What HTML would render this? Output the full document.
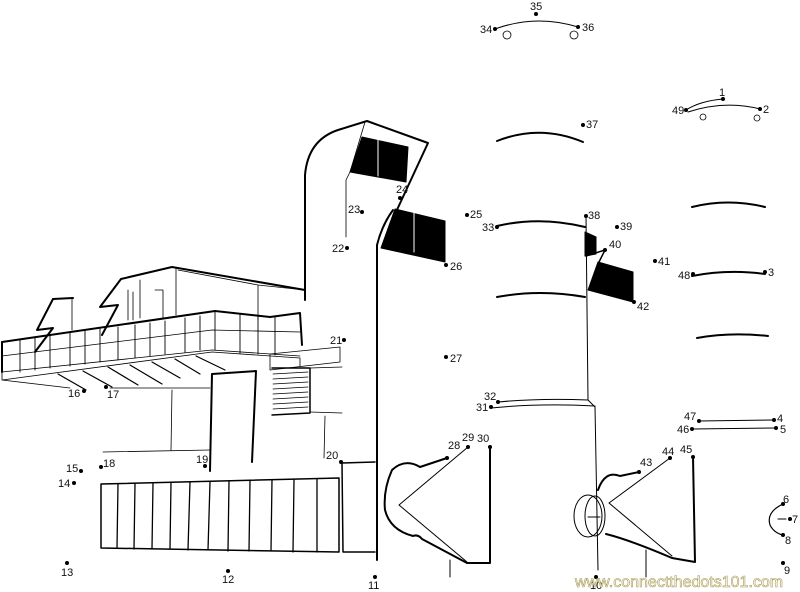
<!DOCTYPE html>
<html><head><meta charset="utf-8"><style>
html,body{margin:0;padding:0;background:#fff;width:800px;height:592px;overflow:hidden}
svg{display:block}
text{font-family:"Liberation Sans",sans-serif;font-size:11px;fill:#111}
</style></head><body>
<svg width="800" height="592" viewBox="0 0 800 592" xmlns="http://www.w3.org/2000/svg">
<g fill="none" stroke="#000" stroke-linecap="round" stroke-linejoin="round">
<!-- left building upper -->
<path d="M53,299 L73,298 M53,299 L37,330 L53,328 L35,352" stroke-width="2"/>
<path d="M121,279 L172,267 L305,290 M121,279 L100,307 L118,305 L102,335" stroke-width="2"/>
<path d="M176,268 L176,315 M178,270 L258,285 L305,290 M258,285 L258,320 M140,280 L140,318 M155,290 L163,290 L163,318 M128,290 L128,320 M133,292 L133,320 M72,298 L72,330" stroke-width="0.8"/>
<path d="M2,342 L215,311 L270,317 L300,313 L302,345 M2,342 L2,372" stroke-width="2"/>
<path d="M2,356 L212,330 L300,332 M2,372 L212,350 L300,356" stroke-width="0.8"/>
<path d="M20,340 L20,372 M35,338 L35,370 M50,336 L50,368 M70,333 L70,366 M85,331 L85,364 M100,329 L100,362 M118,327 L118,360 M135,325 L135,358 M150,323 L150,356 M165,321 L165,354 M185,318 L185,352 M200,316 L200,350 M215,312 L215,350 M240,314 L240,353 M258,316 L258,354 M275,316 L275,355" stroke-width="0.9"/>
<path d="M2,372 L2,380 L212,352 L300,358 L300,366 M2,380 L70,388 M110,388 L210,388" stroke-width="0.8"/>
<path d="M58,374 L86,390 M83,371 L112,387 M108,367 L138,385 M130,365 L162,384 M152,362 L180,378 M175,359 L200,374 M196,356 L225,370" stroke-width="1.2"/>
<path d="M172,390 L171,450 M103,452 L210,450" stroke-width="0.8"/>
<path d="M210,471 L212,374 L256,371 L252,462" stroke-width="2"/>
<path d="M270,354 L340,347 L340,362 L270,370 Z" stroke-width="0.8"/>
<path d="M272,368 L310,368 L310,413 L272,415" stroke-width="1.5"/>
<path d="M273,374 L308,372 M273,379 L308,377 M273,384 L308,382 M273,389 L308,387 M273,394 L308,392 M273,399 L308,397 M273,404 L308,402 M273,409 L308,407" stroke-width="0.8"/>
<path d="M310,368 L342,367 M310,412 L342,413 M325,416 L324,458" stroke-width="0.8"/>
<!-- garage -->
<path d="M101,484 L339,478 L339,552 L101,548 Z" stroke-width="1.5"/>
<path d="M118,484 L117,548 M135,484 L134,549 M153,483 L152,549 M171,483 L170,549 M190,482 L188,550 M210,482 L208,550 M229,481 L228,551 M250,481 L249,551 M272,480 L271,551 M294,480 L293,552 M317,479 L317,552" stroke-width="1.3"/>
<path d="M342,463 L343,552 L375,552 M342,463 L375,462" stroke-width="1.5"/>
<!-- tower -->
<path d="M305,300 L305,175 Q308,140 338,130 L367,121 L428,143 L396,212 M377,560 L377,245 Q382,225 393,210" stroke-width="2"/>
<path d="M365,122 L350,172 L346,180 L346,237" stroke-width="0.8"/>
<path d="M362,137 L408,147 L406,182 L350,172 Z" fill="#000"/>
<path d="M395,209 L445,221 L445,262 L381,248 Z" fill="#000"/>
<path d="M378,138 L378,176 M414,213 L414,252" stroke="#fff" stroke-width="1"/>
<!-- right tower -->
<path d="M586,216 L588,400 L595,407 L598,570" stroke-width="1"/>
<path d="M585,232 L596,237 L596,254 L585,256 Z" fill="#000"/>
<path d="M598,262 L633,272 L633,302 L588,290 Z" fill="#000"/>
<path d="M586,256 L605,250 L599,262" stroke-width="1.5"/>
<path d="M497,141 Q540,124 583,142 M497,226 Q540,216 585,227 M497,297 Q540,289 585,297" stroke-width="2"/>
<path d="M498,402 Q540,398 588,400 M491,408 Q540,403 595,406" stroke-width="1"/>
<path d="M692,207 Q728,198 765,207 M692,276 Q728,269 765,274 M697,338 Q730,332 768,336" stroke-width="2"/>
<path d="M699,421 L774,420 M692,429 L776,428" stroke-width="1"/>
<path d="M495,29 Q536,14 578,27" stroke-width="1"/>
<circle cx="507" cy="35" r="4" stroke-width="0.8"/><circle cx="574" cy="35" r="4" stroke-width="0.8"/>
<path d="M686,110 Q700,101 723,99 M688,112 Q725,100 760,109" stroke-width="1"/>
<circle cx="703" cy="117" r="3" stroke-width="0.8"/><circle cx="757" cy="118" r="3" stroke-width="0.8"/>
<!-- speakers -->
<path d="M447,458 L420,467 Q405,458 392,470 Q383,490 385,510 Q390,530 413,536 Q418,534 422,539 L467,563 L490,563 L490,447" stroke-width="2"/>
<path d="M468,447 L399,505 L467,562" stroke-width="1"/>
<path d="M450,560 L450,577" stroke-width="1"/>
<path d="M639,472 L620,476 Q605,470 598,490 M606,534 Q630,540 672,558 L695,562 L693,457" stroke-width="2"/>
<path d="M670,458 L609,503 L672,556" stroke-width="1"/>
<ellipse cx="588" cy="516" rx="14" ry="21" stroke-width="1"/><ellipse cx="595" cy="516" rx="10" ry="20" stroke-width="1"/>
<path d="M588,517 L600,517 M646,550 L646,577" stroke-width="1"/>
<path d="M783,504 Q766,512 770,525 Q774,533 783,535" stroke-width="1.2"/>
<path d="M778,519 L786,519" stroke-width="1"/>
</g>
<g fill="#000">
<circle cx="723" cy="99" r="2"/><circle cx="760" cy="109" r="2"/><circle cx="765" cy="272" r="2"/><circle cx="774" cy="420" r="2"/><circle cx="776" cy="428" r="2"/><circle cx="783" cy="504" r="2"/><circle cx="790" cy="519" r="2"/><circle cx="783" cy="535" r="2"/><circle cx="783" cy="563" r="2"/><circle cx="596" cy="577" r="2"/><circle cx="375" cy="577" r="2"/><circle cx="228" cy="571" r="2"/><circle cx="67" cy="563" r="2"/><circle cx="74" cy="483" r="2"/><circle cx="81" cy="471" r="2"/><circle cx="84" cy="391" r="2"/><circle cx="106" cy="387" r="2"/><circle cx="101" cy="467" r="2"/><circle cx="205" cy="466" r="2"/><circle cx="341" cy="462" r="2"/><circle cx="344" cy="340" r="2"/><circle cx="347" cy="248" r="2"/><circle cx="362" cy="212" r="2"/><circle cx="400" cy="198" r="2"/><circle cx="467" cy="215" r="2"/><circle cx="446" cy="265" r="2"/><circle cx="446" cy="357" r="2"/><circle cx="447" cy="458" r="2"/><circle cx="468" cy="447" r="2"/><circle cx="490" cy="447" r="2"/><circle cx="491" cy="407" r="2"/><circle cx="498" cy="402" r="2"/><circle cx="497" cy="227" r="2"/><circle cx="495" cy="29" r="2"/><circle cx="536" cy="14" r="2"/><circle cx="578" cy="27" r="2"/><circle cx="583" cy="125" r="2"/><circle cx="586" cy="216" r="2"/><circle cx="617" cy="227" r="2"/><circle cx="605" cy="250" r="2"/><circle cx="655" cy="261" r="2"/><circle cx="634" cy="302" r="2"/><circle cx="639" cy="472" r="2"/><circle cx="670" cy="458" r="2"/><circle cx="693" cy="457" r="2"/><circle cx="692" cy="429" r="2"/><circle cx="699" cy="421" r="2"/><circle cx="693" cy="274" r="2"/><circle cx="686" cy="110" r="2"/>
</g>
<g>
<text x="719" y="96">1</text><text x="763" y="113">2</text><text x="768" y="276">3</text><text x="777" y="422">4</text><text x="780" y="433">5</text><text x="783" y="503">6</text><text x="792" y="523">7</text><text x="785" y="544">8</text><text x="784" y="574">9</text><text x="590" y="589">10</text><text x="368" y="589">11</text><text x="222" y="583">12</text><text x="61" y="576">13</text><text x="58" y="487">14</text><text x="66" y="472">15</text><text x="68" y="397">16</text><text x="107" y="398">17</text><text x="103" y="467">18</text><text x="196" y="463">19</text><text x="326" y="459">20</text><text x="330" y="344">21</text><text x="332" y="252">22</text><text x="348" y="213">23</text><text x="396" y="193">24</text><text x="470" y="218">25</text><text x="450" y="270">26</text><text x="450" y="362">27</text><text x="448" y="449">28</text><text x="462" y="441">29</text><text x="477" y="442">30</text><text x="476" y="411">31</text><text x="484" y="400">32</text><text x="482" y="231">33</text><text x="480" y="33">34</text><text x="530" y="10">35</text><text x="582" y="31">36</text><text x="586" y="128">37</text><text x="588" y="219">38</text><text x="620" y="230">39</text><text x="609" y="248">40</text><text x="658" y="265">41</text><text x="637" y="310">42</text><text x="640" y="466">43</text><text x="662" y="455">44</text><text x="680" y="453">45</text><text x="677" y="433">46</text><text x="684" y="420">47</text><text x="678" y="279">48</text><text x="672" y="114">49</text>
<text x="575" y="587" style="font-size:16px;fill:#fff;stroke:#a89a50;stroke-width:0.6">www.connectthedots101.com</text>
</g>
</svg>
</body></html>
